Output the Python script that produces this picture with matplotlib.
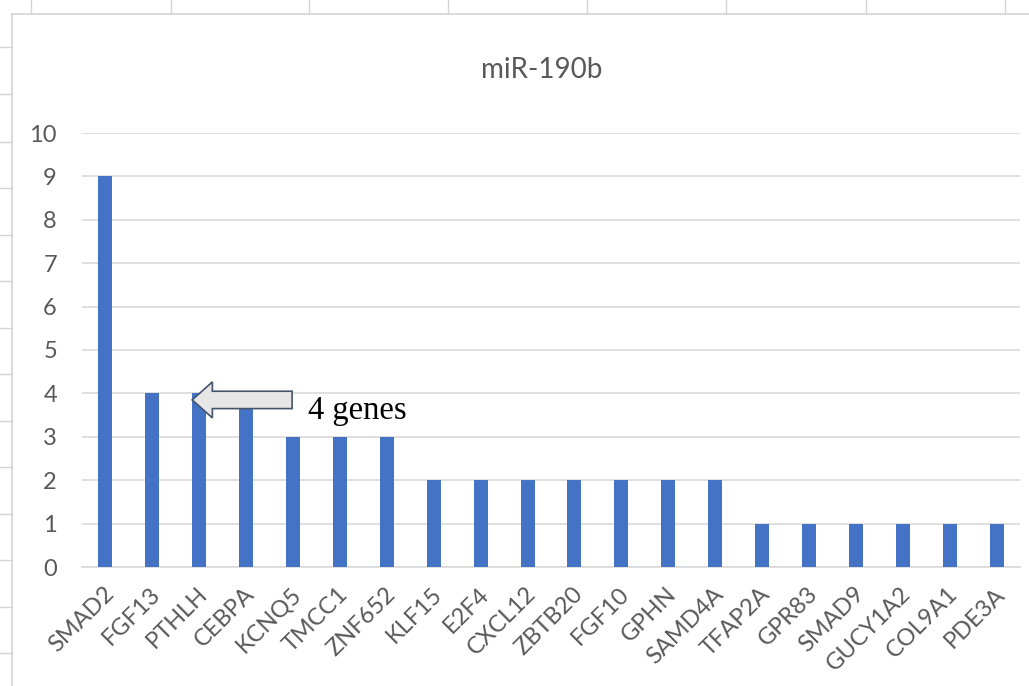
import matplotlib
matplotlib.use("Agg")
import matplotlib.pyplot as plt
import matplotlib.transforms as mtransforms
from matplotlib.lines import Line2D
from matplotlib.patches import FancyArrow

genes = ["SMAD2", "FGF13", "PTHLH", "CEBPA", "KCNQ5", "TMCC1", "ZNF652", "KLF15",
         "E2F4", "CXCL12", "ZBTB20", "FGF10", "GPHN", "SAMD4A", "TFAP2A", "GPR83",
         "SMAD9", "GUCY1A2", "COL9A1", "PDE3A"]
counts = [9, 4, 4, 4, 3, 3, 3, 2, 2, 2, 2, 2, 2, 2, 1, 1, 1, 1, 1, 1]
yticks = list(range(0, 11))

plt.rcParams["font.family"] = ["Lato", "DejaVu Sans"]

W, H = 1029, 686
fig = plt.figure(figsize=(W / 100, H / 100), dpi=100)
fig.patch.set_facecolor("white")

# spreadsheet cell borders behind the chart object
grid_c = "#d4d4d4"
fig.add_artist(Line2D([12 / W, 1], [1 - 14 / H, 1 - 14 / H], color=grid_c, lw=1.2))
fig.add_artist(Line2D([12 / W, 12 / W], [0, 1 - 14 / H], color=grid_c, lw=1.2))
for xc in [31, 171, 309, 448, 587, 726, 866, 1005]:
    fig.add_artist(Line2D([xc / W, xc / W], [1 - 14 / H, 1], color=grid_c, lw=1.0))
for yr in [47, 94, 142, 188, 235, 281, 328, 374, 421, 467, 514, 560, 607, 653]:
    fig.add_artist(Line2D([0, 12 / W], [1 - yr / H, 1 - yr / H], color=grid_c, lw=1.0))

ax = fig.add_axes([82 / W, 1 - 567 / H, (1020 - 82) / W, (567 - 133) / H])
x = list(range(len(genes)))
ax.bar(x, counts, width=0.3, color="#4472C4", zorder=3)

ax.set_xlim(-0.5, len(genes) - 0.5)
ax.set_ylim(0, 10)
ax.set_yticks(yticks)
ax.yaxis.grid(True, color="#d9d9d9", lw=1.2, zorder=0)
ax.set_axisbelow(True)
for s in ["top", "right", "left"]:
    ax.spines[s].set_visible(False)
ax.spines["bottom"].set_color("#d9d9d9")
ax.spines["bottom"].set_linewidth(1.2)
ax.tick_params(axis="both", length=0, colors="#595959", labelsize=17)
ax.tick_params(axis="y", pad=18)
ax.set_xticks(x)
ax.set_xticklabels(genes, rotation=45, ha="right", va="center",
                   rotation_mode="anchor", fontsize=17, color="#595959")
ax.tick_params(axis="x", pad=17)
shift = mtransforms.ScaledTranslation(5 / 100, 0, fig.dpi_scale_trans)
for lbl in ax.get_xticklabels():
    lbl.set_transform(lbl.get_transform() + shift)

fig.text(542 / W, 1 - 70 / H, "miR-190b", ha="center", va="center",
         fontsize=20, color="#595959")

arrow = FancyArrow(3.98, 3.85, -2.13, 0, width=0.4, head_width=0.83,
                   head_length=0.43, length_includes_head=True,
                   facecolor="#e7e6e6", edgecolor="#44546a", lw=1.2, zorder=5)
ax.add_patch(arrow)
ax.text(4.32, 3.6, "4 genes", ha="left", va="center", fontsize=23.5,
        family=["Liberation Serif", "DejaVu Serif"], color="black", zorder=6)

fig.savefig("out.png", dpi=100, facecolor="white")
